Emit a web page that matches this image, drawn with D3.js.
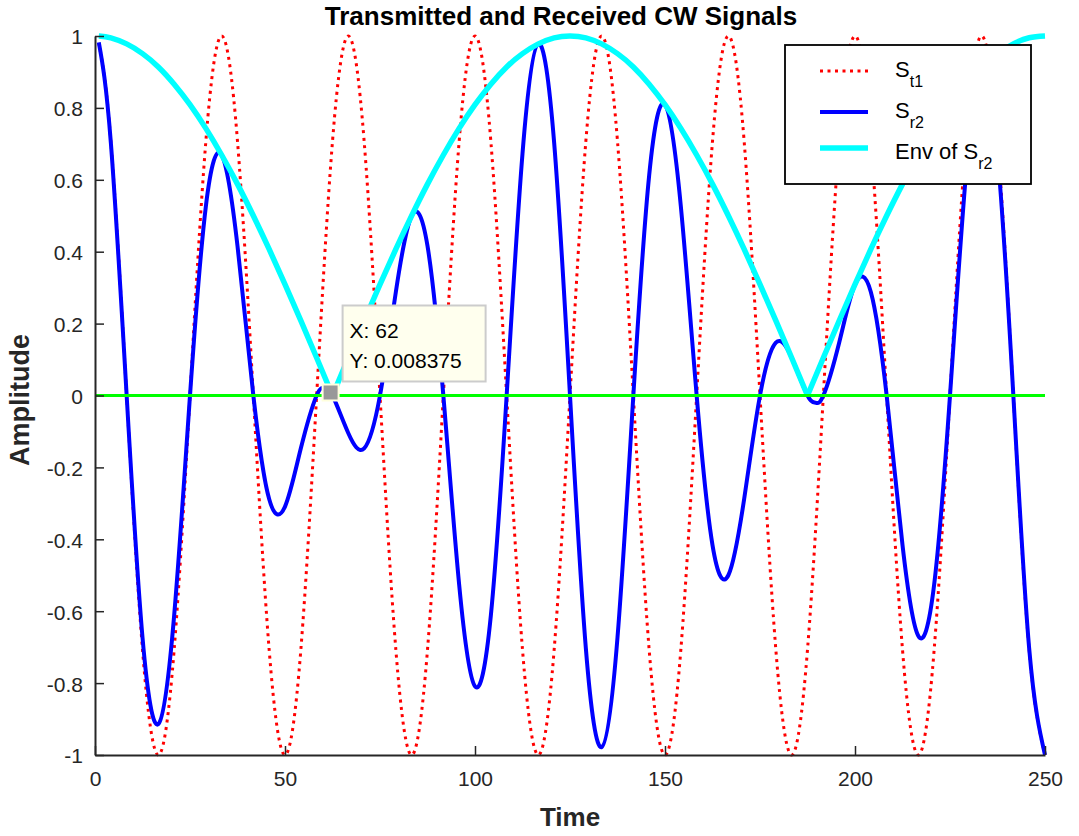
<!DOCTYPE html>
<html>
<head>
<meta charset="utf-8">
<script src="https://cdn.jsdelivr.net/npm/d3@7"></script>
<style>
body{margin:0;background:#fff;}
text{font-family:"Liberation Sans", Arial, Helvetica, sans-serif;}
</style>
</head>
<body>
<svg id="chart" width="1079" height="836"></svg>
<script>
// sample times shared by the transmitted signal and the envelope
var sampleTime = [1,4.17,8.33,12.5,16.67,20.83,25,29.17,33.33,37.5,41.67,45.83,50,54.17,58.33,62.5,
    66.67,70.83,75,79.17,83.33,87.5,91.67,95.83,100,104.17,108.33,112.5,116.67,120.83,125,
    129.17,133.33,137.5,141.67,145.83,150,154.17,158.33,162.5,166.67,170.83,175,179.17,183.33,187.5,
    191.67,195.83,200,204.17,208.33,212.5,216.67,220.83,225,229.17,233.33,237.5,241.67,245.83,250];

var transmitted = [0.98,0.707,0,-0.707,-1,-0.707,0,0.707,1,0.707,0,-0.707,-1,-0.707,0,0.707,
    1,0.707,0,-0.707,-1,-0.707,0,0.707,1,0.707,0,-0.707,-1,-0.707,0,
    0.707,1,0.707,0,-0.707,-1,-0.707,0,0.707,1,0.707,0,-0.707,-1,-0.707,
    0,0.707,1,0.707,0,-0.707,-1,-0.707,0,0.707,1,0.707,0,-0.707,-1];

var envelope = [1,0.995,0.978,0.951,0.914,0.866,0.809,0.743,0.669,0.588,0.5,0.407,0.309,0.208,0.105,0,
    0.105,0.208,0.309,0.407,0.5,0.588,0.669,0.743,0.809,0.866,0.914,0.951,0.978,0.995,1,
    0.995,0.978,0.951,0.914,0.866,0.809,0.743,0.669,0.588,0.5,0.407,0.309,0.208,0.105,0,
    0.105,0.208,0.309,0.407,0.5,0.588,0.669,0.743,0.809,0.866,0.914,0.951,0.978,0.995,1];

// received signal, with the two small bumps near the envelope zeros
var receivedTime = [1,4.17,8.33,12.5,16.67,20.83,25,29.17,33.33,37.5,41.67,45.83,50,54.17,58.33,60.4,62.5,
    66.67,70.83,75,79.17,83.33,87.5,91.67,95.83,100,104.17,108.33,112.5,116.67,120.83,125,
    129.17,133.33,137.5,141.67,145.83,150,154.17,158.33,162.5,166.67,170.83,175,179.17,183.33,187.5,189.6,
    191.67,195.83,200,204.17,208.33,212.5,216.67,220.83,225,229.17,233.33,237.5,241.67,245.83,250];

var received = [0.982,0.703,0,-0.673,-0.914,-0.612,0,0.526,0.669,0.416,0,-0.288,-0.309,-0.147,0,0.02,0,
    -0.105,-0.147,0,0.288,0.5,0.416,0,-0.526,-0.809,-0.612,0,0.673,0.978,0.703,0,
    -0.703,-0.978,-0.673,0,0.612,0.809,0.526,0,-0.416,-0.5,-0.288,0,0.147,0.105,0,-0.02,
    0,0.147,0.309,0.288,0,-0.416,-0.669,-0.526,0,0.612,0.914,0.673,0,-0.703,-1];

var xTicks = [0,50,100,150,200,250];
var yTicks = [-1,-0.8,-0.6,-0.4,-0.2,0,0.2,0.4,0.6,0.8,1];
var yTickLabels = ["-1","-0.8","-0.6","-0.4","-0.2","0","0.2","0.4","0.6","0.8","1"];

var legendText = ["S","S","Env of S"];
var legendSub = ["t1","r2","r2"];

var tipX = 62, tipY = 0.008375;

var svg = d3.select("#chart");
var axisColor = "#262626";

var x = d3.scaleLinear().domain([0,250]).range([95,1045]);
var y = d3.scaleLinear().domain([-1,1]).range([755,36]);

var line = d3.line()
    .x(function(d){return x(d[0])})
    .y(function(d){return y(d[1])})
    .curve(d3.curveNatural);

// transmitted (red dotted)
svg.append("path")
    .attr("d", line(sampleTime.map(function(t,i){return [t, transmitted[i]]})))
    .attr("fill","none")
    .attr("stroke","#ff0000")
    .attr("stroke-width",3)
    .attr("stroke-dasharray","3,4.5");

// received (blue)
svg.append("path")
    .attr("d", line(receivedTime.map(function(t,i){return [t, received[i]]})))
    .attr("fill","none")
    .attr("stroke","#0000ff")
    .attr("stroke-width",4);

// envelope, split at its zeros so the cusps stay sharp
var envSegs = [], cur = [];
sampleTime.forEach(function(t,i){
    cur.push([t, envelope[i]]);
    if(envelope[i] === 0 && cur.length > 1){
        envSegs.push(cur);
        cur = [[t,0]];
    }
});
envSegs.push(cur);

svg.selectAll(".env")
    .data(envSegs)
    .enter()
    .append("path")
    .attr("class","env")
    .attr("d", line)
    .attr("fill","none")
    .attr("stroke","#00ffff")
    .attr("stroke-width",5.5);

// zero line (green)
svg.append("line")
    .attr("x1", x(0)).attr("x2", x(250))
    .attr("y1", y(0)).attr("y2", y(0))
    .attr("stroke","#00ff00")
    .attr("stroke-width",3);

// axes
var xAxis = d3.axisBottom(x).tickValues(xTicks).tickSizeInner(-9).tickSizeOuter(0).tickPadding(16);
var yAxis = d3.axisLeft(y).tickValues(yTicks)
    .tickFormat(function(d,i){return yTickLabels[i]})
    .tickSizeInner(-9).tickSizeOuter(0).tickPadding(12);

var gx = svg.append("g").attr("transform","translate(0,755)").call(xAxis);
var gy = svg.append("g").attr("transform","translate(95,0)").call(yAxis);

[gx, gy].forEach(function(g){
    g.select(".domain").attr("stroke",axisColor).attr("stroke-width",2);
    g.selectAll(".tick line").attr("stroke",axisColor).attr("stroke-width",1.5);
    g.selectAll(".tick text")
        .attr("fill",axisColor)
        .style("font-size","21px")
        .style("font-family","'Liberation Sans', Arial, sans-serif");
});
gy.selectAll(".tick text").attr("dy","0.38em");

// titles
svg.append("text")
    .attr("x",561).attr("y",25)
    .attr("text-anchor","middle")
    .attr("font-weight","bold")
    .attr("font-size","26px")
    .attr("fill","#000")
    .text("Transmitted and Received CW Signals");

svg.append("text")
    .attr("x",570).attr("y",826)
    .attr("text-anchor","middle")
    .attr("font-weight","bold")
    .attr("font-size","26px")
    .attr("fill",axisColor)
    .text("Time");

svg.append("text")
    .attr("transform","translate(29,400) rotate(-90)")
    .attr("text-anchor","middle")
    .attr("font-weight","bold")
    .attr("font-size","27px")
    .attr("fill",axisColor)
    .text("Amplitude");

// legend
var legend = svg.append("g");
legend.append("rect")
    .attr("x",785).attr("y",45)
    .attr("width",246).attr("height",139)
    .attr("fill","#fff")
    .attr("stroke","#000")
    .attr("stroke-width",1.8);

var legendStyle = [
    {stroke:"#ff0000", width:3, dash:"3,4.5"},
    {stroke:"#0000ff", width:4, dash:null},
    {stroke:"#00ffff", width:5.5, dash:null}
];
var rowLine = [71,112,148];
var rowText = [77,118,159];

legendText.forEach(function(t,i){
    legend.append("line")
        .attr("x1",820).attr("x2",868)
        .attr("y1",rowLine[i]).attr("y2",rowLine[i])
        .attr("stroke",legendStyle[i].stroke)
        .attr("stroke-width",legendStyle[i].width)
        .attr("stroke-dasharray",legendStyle[i].dash);
    var txt = legend.append("text")
        .attr("x",895).attr("y",rowText[i])
        .attr("font-size","22px")
        .attr("fill","#000");
    txt.append("tspan").text(t);
    txt.append("tspan")
        .attr("dy","10")
        .attr("font-size","16px")
        .text(legendSub[i]);
});

// data tip
var tip = svg.append("g");
tip.append("rect")
    .attr("x", x(tipX)+12).attr("y", y(tipY)-87)
    .attr("width",143).attr("height",76)
    .attr("fill","#ffffee")
    .attr("stroke","#cccccc")
    .attr("stroke-width",2);
tip.append("text")
    .attr("x", x(tipX)+19).attr("y", y(tipY)-54)
    .attr("font-size","21px")
    .attr("fill","#000")
    .text("X: " + tipX);
tip.append("text")
    .attr("x", x(tipX)+19).attr("y", y(tipY)-24)
    .attr("font-size","21px")
    .attr("fill","#000")
    .text("Y: " + tipY);
tip.append("rect")
    .attr("x", x(tipX)-8).attr("y", y(tipY)-8)
    .attr("width",16).attr("height",16)
    .attr("fill","#999999")
    .attr("stroke","#ffffdd")
    .attr("stroke-width",2);
</script>
</body>
</html>
